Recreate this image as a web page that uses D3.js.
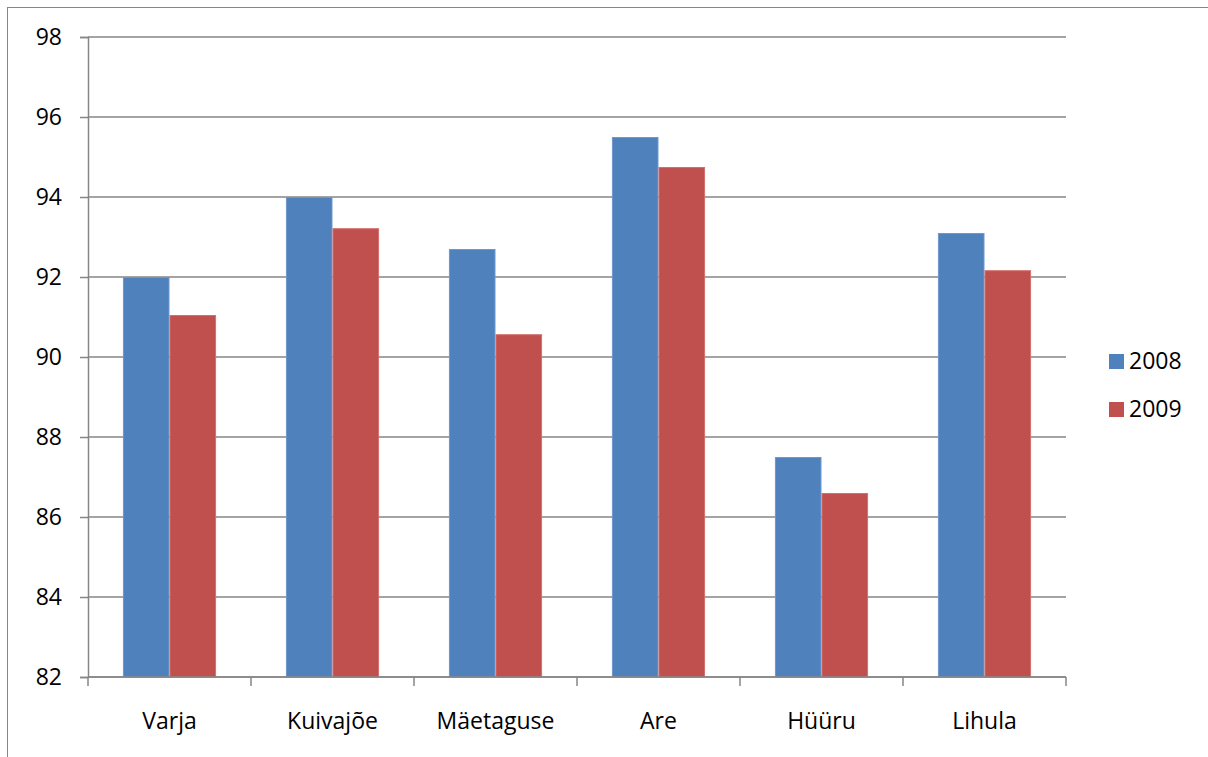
<!DOCTYPE html>
<html>
<head>
<meta charset="utf-8">
<script src="https://cdn.jsdelivr.net/npm/d3@7"></script>
<style>
  html, body { margin: 0; padding: 0; background: #fff; }
  svg { display: block; }
  text { font-family: "Open Sans", "Noto Sans", sans-serif; fill: #000; }
</style>
</head>
<body>
<svg id="chart" width="1208" height="757"></svg>
<script>
// Category labels and yearly values
const categories = ["Varja", "Kuivajõe", "Mäetaguse", "Are", "Hüüru", "Lihula"];
const seriesNames = ["2008", "2009"];
const values2008 = [92.0, 94.0, 92.7, 95.5, 87.5, 93.1];
const values2009 = [91.05, 93.22, 90.57, 94.75, 86.6, 92.17];
const yTicks = [82, 84, 86, 88, 90, 92, 94, 96, 98];
const colors = ["#4F81BD", "#C0504D"];
const edgeColors = ["#6E97CB", "#D36F6C"];

const svg = d3.select("#chart");
const W = 1208, H = 757;
const plot = { left: 88, right: 1066, top: 37, bottom: 677 };
const FONT = 23;

// Outer chart border
svg.append("rect")
  .attr("x", 7.5).attr("y", 7.5)
  .attr("width", W - 7).attr("height", H - 7)
  .attr("fill", "none").attr("stroke", "#868686").attr("stroke-width", 1);

const x0 = d3.scaleBand().domain(categories).range([plot.left, plot.right]).paddingInner(0).paddingOuter(0);
const x1 = d3.scaleBand().domain(seriesNames).range([0, x0.bandwidth()]).paddingInner(0).paddingOuter(0.75);
const y = d3.scaleLinear().domain([82, 98]).range([plot.bottom, plot.top]);

// Horizontal gridlines
svg.append("g").selectAll("line").data(yTicks).join("line")
  .attr("x1", plot.left).attr("x2", plot.right)
  .attr("y1", d => y(d)).attr("y2", d => y(d))
  .attr("stroke", "#868686").attr("stroke-width", 1.5);

// Bars
const rows = categories.map((c, i) => ({ cat: c, vals: [values2008[i], values2009[i]] }));
const groups = svg.append("g").selectAll("g").data(rows).join("g")
  .attr("transform", d => `translate(${x0(d.cat)},0)`);
groups.selectAll("rect").data(d => d.vals.map((v, j) => ({ v, s: seriesNames[j], j })))
  .join("rect")
  .attr("x", d => x1(d.s) + 0.5)
  .attr("width", x1.bandwidth() - 1)
  .attr("y", d => y(d.v) + 0.5)
  .attr("height", d => y(82) - y(d.v) - 0.5)
  .attr("fill", d => colors[d.j])
  .attr("stroke", d => edgeColors[d.j])
  .attr("stroke-width", 1);

// Y axis
const yAxis = svg.append("g")
  .attr("transform", `translate(${plot.left},0)`)
  .call(d3.axisLeft(y).tickValues(yTicks).tickSize(8).tickPadding(18).tickFormat(d3.format("d")));
yAxis.select(".domain").attr("stroke", "#868686").attr("stroke-width", 1.5);
yAxis.selectAll(".tick line").attr("stroke", "#868686").attr("stroke-width", 1.5);
yAxis.selectAll("text").attr("font-size", FONT).attr("font-family", "'Open Sans', sans-serif").attr("fill", "#000");

// X axis with ticks between categories
const xAxisG = svg.append("g").attr("transform", `translate(0,${plot.bottom})`);
xAxisG.append("line").attr("x1", plot.left).attr("x2", plot.right)
  .attr("stroke", "#868686").attr("stroke-width", 1.5);
const boundaries = d3.range(categories.length + 1).map(i => plot.left + i * x0.bandwidth());
xAxisG.selectAll("line.tk").data(boundaries).join("line").attr("class", "tk")
  .attr("x1", d => d).attr("x2", d => d).attr("y1", 0).attr("y2", 9)
  .attr("stroke", "#868686").attr("stroke-width", 1.5);
xAxisG.selectAll("text").data(categories).join("text")
  .attr("x", d => x0(d) + x0.bandwidth() / 2)
  .attr("y", 52)
  .attr("text-anchor", "middle")
  .attr("font-size", FONT)
  .text(d => d);

// Legend
const legend = svg.append("g");
seriesNames.forEach((s, i) => {
  const ly = 354 + i * 48;
  legend.append("rect").attr("x", 1109).attr("y", ly).attr("width", 15).attr("height", 15).attr("fill", colors[i]);
  legend.append("text").attr("x", 1129).attr("y", ly + 15).attr("font-size", FONT).text(s);
});
</script>
</body>
</html>
